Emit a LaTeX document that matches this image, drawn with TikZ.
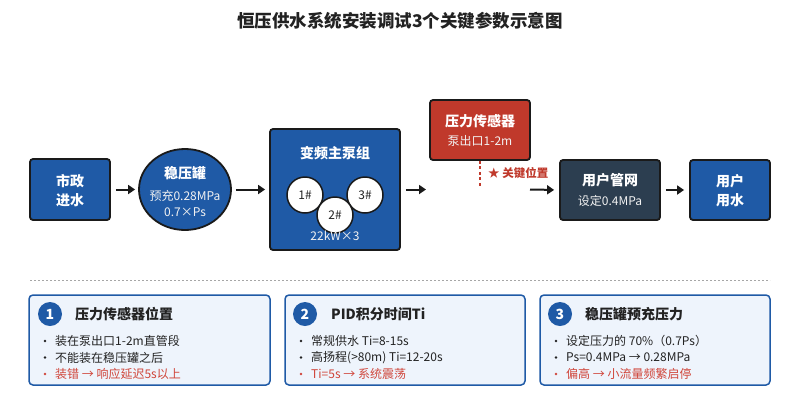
\documentclass[tikz,border=0pt]{standalone}
\usepackage{fontspec}
\setmainfont{Noto Sans CJK SC}
\usetikzlibrary{arrows.meta,shapes.geometric}
\definecolor{pblue}{HTML}{1F5AA6}
\definecolor{pred}{HTML}{C0392B}
\definecolor{pdark}{HTML}{2C3E50}
\definecolor{edge}{HTML}{1A1A1A}
\definecolor{cardfill}{HTML}{EEF4FC}
\definecolor{warn}{HTML}{D0453A}
\definecolor{txt}{HTML}{222222}
\begin{document}
\begin{tikzpicture}[x=1pt,y=-1pt,
  boxstyle/.style={draw=edge,line width=1.8pt,rounded corners=3pt,inner sep=0pt},
  headtxt/.style={text=white,font=\fontsize{14}{16}\selectfont\bfseries,inner sep=0pt},
  subtxt/.style={text=white!90!gray,font=\fontsize{12}{14}\selectfont,inner sep=0pt},
  flow/.style={draw=edge,line width=2pt,-{Triangle[length=7pt,width=9pt]}},
  pumpc/.style={circle,draw=edge,line width=1.5pt,fill=white,minimum size=36pt,inner sep=0pt,font=\fontsize{12}{14}\selectfont,text=txt},
  card/.style={draw=pblue,line width=1.5pt,fill=cardfill,rounded corners=4pt,inner sep=0pt},
  numc/.style={circle,fill=pblue,minimum size=24pt,inner sep=0pt,text=white,font=\fontsize{14}{16}\selectfont\bfseries},
  cardtitle/.style={anchor=west,inner sep=0pt,text=txt,font=\fontsize{14}{16}\selectfont\bfseries},
  bul/.style={circle,fill=txt,minimum size=2.6pt,inner sep=0pt},
  item/.style={anchor=west,inner sep=0pt,text=txt,font=\fontsize{12}{14}\selectfont},
]
\useasboundingbox (0,0) rectangle (800,400);
\fill[white] (0,0) rectangle (800,400);

% title
\node[inner sep=0pt,text=txt,font=\fontsize{17.5}{20}\selectfont\bfseries] (title) at (400,21) {恒压供水系统安装调试3个关键参数示意图};

% boxes
\node[boxstyle,fill=pblue,minimum width=80pt,minimum height=61pt] (city) at (70,189.5) {};
\node[headtxt] (cityt1) at (70,181) {市政};
\node[headtxt] (cityt2) at (70,200) {进水};

\node[ellipse,draw=edge,line width=1.8pt,fill=pblue,minimum width=92pt,minimum height=81pt,inner sep=0pt] (tank) at (185,189.5) {};
\node[headtxt] (tankt) at (185,173) {稳压罐};
\node[subtxt] (tanks1) at (185,196) {预充0.28MPa};
\node[subtxt] (tanks2) at (185,212) {0.7×Ps};

\node[boxstyle,fill=pblue,minimum width=130pt,minimum height=121pt] (pump) at (335,189.5) {};
\node[headtxt] (pumpt) at (335,153) {变频主泵组};
\node[pumpc] (p1) at (305,195) {1\#};
\node[pumpc] (p3) at (365,195) {3\#};
\node[pumpc] (p2) at (335,215) {2\#};
\node[subtxt] (pumps) at (335,236) {22kW×3};

\node[boxstyle,fill=pred,minimum width=100pt,minimum height=60pt] (sensor) at (480,130) {};
\node[headtxt] (sensort) at (480,121) {压力传感器};
\node[subtxt] (sensors) at (480,141) {泵出口1-2m};

\node[boxstyle,fill=pdark,minimum width=100pt,minimum height=60pt] (net) at (610,190) {};
\node[headtxt] (nett) at (610,180) {用户管网};
\node[subtxt] (nets) at (610,201) {设定0.4MPa};

\node[boxstyle,fill=pblue,minimum width=80pt,minimum height=60pt] (user) at (730,190) {};
\node[headtxt] (usert1) at (730,181) {用户};
\node[headtxt] (usert2) at (730,200) {用水};

% connectors
\coordinate (gapL) at (426,189.5);
\coordinate (gapR) at (530,189.5);
\coordinate (senseEnd) at (480,188);
\draw[flow,shorten <=5pt,shorten >=3pt] (city.east) -- (tank.west);
\draw[flow,shorten <=4pt,shorten >=4pt] (tank.east) -- (pump.west);
\draw[flow,shorten <=5pt] (pump.east) -- (gapL);
\draw[flow,shorten >=5pt] (gapR) -- (net.west);
\draw[flow,shorten <=5pt,shorten >=5pt] (net.east) -- (user.west);
\draw[pred,line width=1.5pt,dash pattern=on 3pt off 2.5pt] (sensor.south) -- (senseEnd);
\node[anchor=west,inner sep=0pt,text=pred,font=\fontsize{11.5}{13}\selectfont\bfseries] (key) at (488,173) {★ 关键位置};

% separator
\draw[gray!70,line width=1pt,dash pattern=on 2pt off 2pt] (30,280) -- (770,280);

% card 1
\node[card,minimum width=241pt,minimum height=90pt] (c1) at (149.5,340) {};
\node[numc] (n1) at (50,314) {1};
\node[cardtitle] (t1) at (75,314) {压力传感器位置};
\node[bul] (b11) at (45,341) {};
\node[item] (i11) at (55,341) {装在泵出口1-2m直管段};
\node[bul] (b12) at (45,357.5) {};
\node[item] (i12) at (55,357.5) {不能装在稳压罐之后};
\node[bul,fill=warn] (b13) at (45,374) {};
\node[item,text=warn] (i13) at (55,374) {装错 → 响应延迟5s以上};

% card 2
\node[card,minimum width=240pt,minimum height=90pt] (c2) at (405,340) {};
\node[numc] (n2) at (305,314) {2};
\node[cardtitle] (t2) at (331,314) {PID积分时间Ti};
\node[bul] (b21) at (301,341) {};
\node[item] (i21) at (311,341) {常规供水 Ti=8-15s};
\node[bul] (b22) at (301,357.5) {};
\node[item] (i22) at (311,357.5) {高扬程(>80m) Ti=12-20s};
\node[bul,fill=warn] (b23) at (301,374) {};
\node[item,text=warn] (i23) at (311,374) {Ti=5s → 系统震荡};

% card 3
\node[card,minimum width=230pt,minimum height=90pt] (c3) at (655,340) {};
\node[numc] (n3) at (560,314) {3};
\node[cardtitle] (t3) at (585,314) {稳压罐预充压力};
\node[bul] (b31) at (556,341) {};
\node[item] (i31) at (566,341) {设定压力的 70\%（0.7Ps）};
\node[bul] (b32) at (556,357.5) {};
\node[item] (i32) at (566,357.5) {Ps=0.4MPa → 0.28MPa};
\node[bul,fill=warn] (b33) at (556,374) {};
\node[item,text=warn] (i33) at (566,374) {偏高 → 小流量频繁启停};
\end{tikzpicture}
\end{document}
